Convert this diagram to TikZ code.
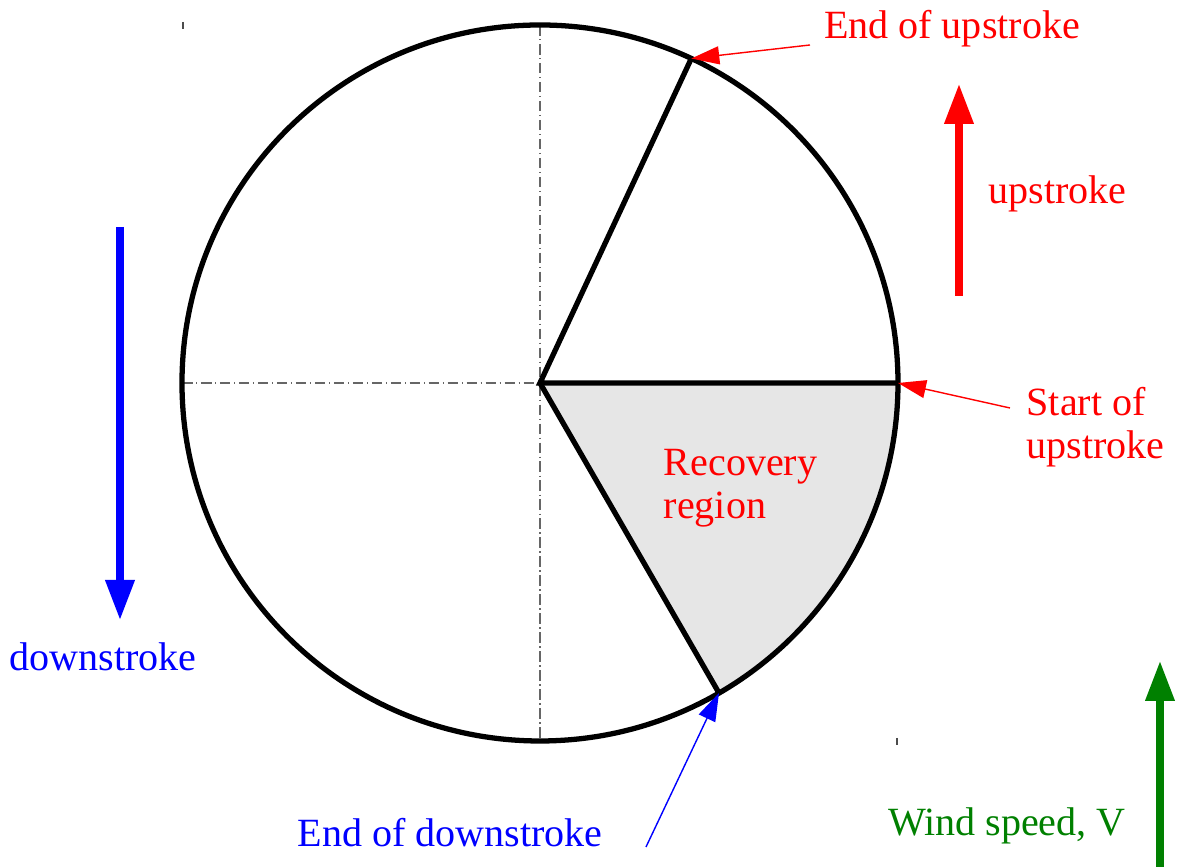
\documentclass[tikz,border=0pt]{standalone}
\usepackage{fontspec}
\setmainfont{Liberation Serif}
\usetikzlibrary{arrows.meta,positioning}
\definecolor{windgreen}{RGB}{0,128,0}
\definecolor{recgray}{RGB}{230,230,230}

\begin{document}
\begin{tikzpicture}[
  lbl/.style={font=\fontsize{11.4}{12.2}\selectfont, inner sep=0pt},
  bigarrow/.style={line width=2pt, -{Triangle[length=4mm,width=2.8mm]}},
  thinarrow/.style={line width=0.4pt, -{Triangle[length=2.8mm,width=1.8mm]}},
  axisline/.style={black!60, line width=0.4pt, dash pattern=on 3pt off 1pt on 0.4pt off 1pt},
  rim/.style={line width=1.5pt},
]
\useasboundingbox (-5.40,-4.84) rectangle (6.37,3.83);
% Centre and points on the ring
\coordinate (O) at (0,0);
\coordinate (endup) at (65:3.58);
\coordinate (startup) at (0:3.58);
\coordinate (enddown) at (-60:3.58);
% Recovery sector
\fill[recgray] (O) -- (startup) arc (0:-60:3.58) -- cycle;
% Axes
\draw[axisline] (0,3.58) -- (0,-3.58);
\draw[axisline] (-3.58,0) -- (O);
% Corner ticks
\draw[black!70, line width=0.4pt] (-3.57,3.61) -- (-3.57,3.54);
\draw[black!70, line width=0.4pt] (3.57,-3.55) -- (3.57,-3.62);
% Ring
\draw[rim] (O) circle (3.58);
% Radial lines
\draw[rim, line join=miter] (endup) -- (O) -- (startup);
\draw[rim] (O) -- (enddown);
% Labels
\node[lbl, red] (tEndUp) at (4.12,3.54) {End of upstroke};
\node[lbl, red, anchor=west] (tUp) at (4.48,1.89) {upstroke};
\node[lbl, red, anchor=west, align=left] (tStartUp) at (4.86,-0.44) {Start of\\upstroke};
\node[lbl, red, anchor=west, align=left] (tRec) at (1.23,-1.05) {Recovery\\region};
\node[lbl, blue] (tDown) at (-4.37,-2.74) {downstroke};
\node[lbl, blue] (tEndDown) at (-0.90,-4.50) {End of downstroke};
\node[lbl, windgreen] (tWind) at (4.67,-4.43) {Wind speed, V};
% Pointer tails
\coordinate (endupTail) at (2.70,3.38);
\coordinate (startupTail) at (4.70,-0.25);
\coordinate (enddownTail) at (1.06,-4.64);
\draw[thinarrow, red] (endupTail) -- (endup);
\draw[thinarrow, red] (startupTail) -- (startup);
\draw[thinarrow, blue] (enddownTail) -- (enddown);
% Stroke and wind arrows
\coordinate (upA) at (4.19,0.87);
\coordinate (upB) at (4.19,2.99);
\coordinate (downA) at (-4.20,1.56);
\coordinate (downB) at (-4.20,-2.37);
\coordinate (windA) at (6.20,-4.84);
\coordinate (windB) at (6.20,-2.78);
\draw[bigarrow, red] (upA) -- (upB);
\draw[bigarrow, blue] (downA) -- (downB);
\draw[bigarrow, windgreen] (windA) -- (windB);
\end{tikzpicture}
\end{document}
